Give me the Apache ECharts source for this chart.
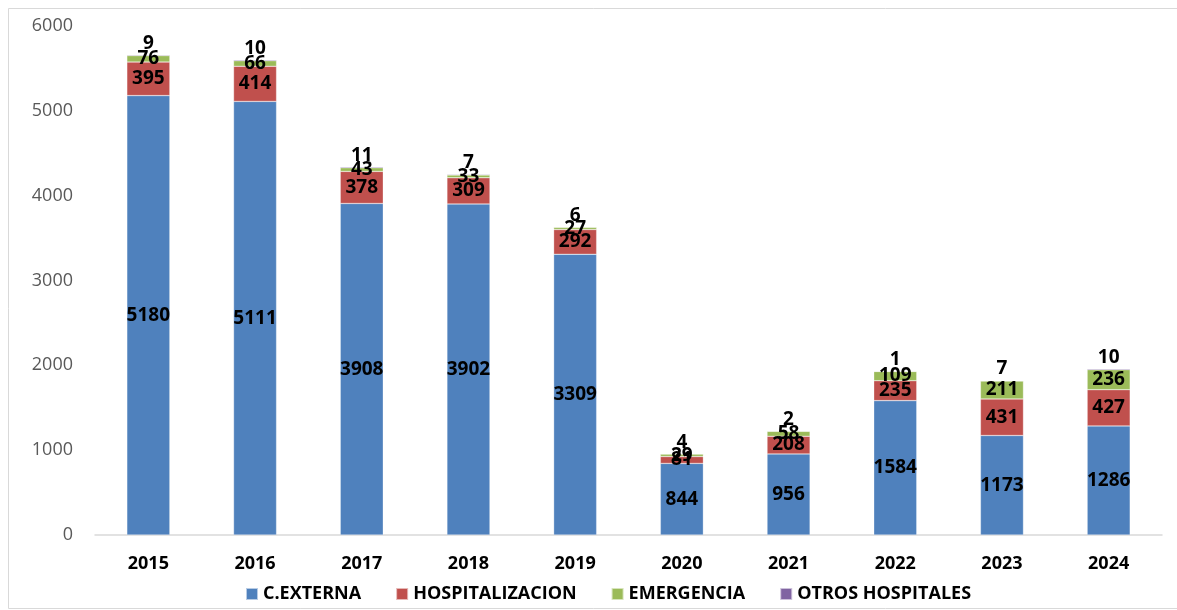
<!DOCTYPE html>
<html>
<head>
<meta charset="utf-8">
<script src="https://cdn.jsdelivr.net/npm/echarts@6/dist/echarts.min.js"></script>
<style>
  html, body { margin: 0; padding: 0; background: #fff; }
  #chart { width: 1177px; height: 610px; }
</style>
</head>
<body>
<div id="chart"></div>
<script>
// years on the x axis
var years = ['2015', '2016', '2017', '2018', '2019', '2020', '2021', '2022', '2023', '2024'];
// values per series
var cExterna = [5180, 5111, 3908, 3902, 3309, 844, 956, 1584, 1173, 1286];
var hospitalizacion = [395, 414, 378, 309, 292, 81, 208, 235, 431, 427];
var emergencia = [76, 66, 43, 33, 27, 29, 58, 109, 211, 236];
var otros = [9, 10, 11, 7, 6, 4, 2, 1, 7, 10];

var font = '"Open Sans", Lato, sans-serif';

var dom = document.getElementById('chart');
var myChart = echarts.init(dom);

var lbl = {
    show: true,
    position: 'inside',
    color: '#000',
    fontFamily: font,
    fontWeight: 'bold',
    fontSize: 19
};

function serie(name, data, color, label) {
    return {
        name: name,
        type: 'bar',
        stack: 'total',
        data: data,
        barWidth: 43,
        itemStyle: { color: color, borderColor: 'rgba(255,255,255,0.6)', borderWidth: 0.5 },
        label: label
    };
}

var option = {
    animation: false,
    backgroundColor: '#fff',
    graphic: [{
        type: 'rect',
        shape: { x: 8.5, y: 8.5, width: 1180, height: 600 },
        style: { fill: 'none', stroke: '#d9d9d9', lineWidth: 1 },
        silent: true
    }],
    grid: { left: 95, right: 15, top: 26, bottom: 75 },
    legend: {
        bottom: 2,
        left: 240,
        itemWidth: 12,
        itemHeight: 12,
        itemGap: 34,
        icon: 'rect',
        textStyle: { fontFamily: font, fontWeight: 'bold', fontSize: 18, color: '#000' },
        data: ['C.EXTERNA', 'HOSPITALIZACION', 'EMERGENCIA', 'OTROS HOSPITALES']
    },
    xAxis: {
        type: 'category',
        data: years,
        axisLine: { lineStyle: { color: '#d9d9d9', width: 1.5 } },
        axisTick: { show: false },
        axisLabel: { color: '#000', fontFamily: font, fontWeight: 'bold', fontSize: 18, margin: 20 }
    },
    yAxis: {
        type: 'value',
        min: 0,
        max: 6000,
        interval: 1000,
        axisLine: { show: false },
        axisTick: { show: false },
        splitLine: { show: false },
        axisLabel: {
            color: '#595959', fontFamily: font, fontSize: 18, margin: 22,
            formatter: function (v) { return String(v); }
        }
    },
    series: [
        serie('C.EXTERNA', cExterna, '#4F81BD', lbl),
        serie('HOSPITALIZACION', hospitalizacion, '#C0504D', lbl),
        serie('EMERGENCIA', emergencia, '#9BBB59', lbl),
        serie('OTROS HOSPITALES', otros, '#8064A2',
            Object.assign({}, lbl, { position: 'top', distance: 2 }))
    ]
};

myChart.setOption(option);
</script>
</body>
</html>
